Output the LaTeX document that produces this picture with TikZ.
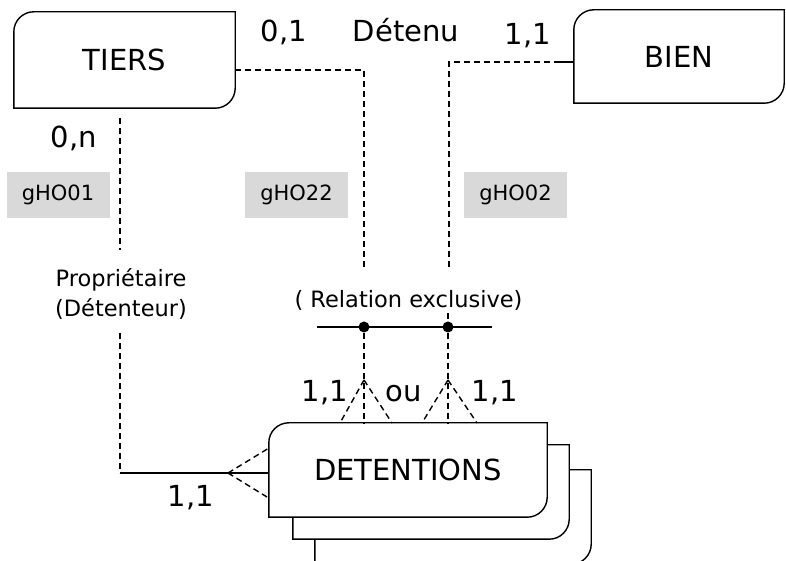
\documentclass[tikz,border=0pt]{standalone}
\usepackage{fontspec}
\setmainfont{DejaVu Sans}
\usetikzlibrary{backgrounds,calc}
\tikzset{
  every picture/.style={x=1pt,y=1pt},
  entity/.style={draw=none,inner sep=0pt,font=\fontsize{29}{33}\selectfont},
  big/.style={inner sep=0pt,anchor=base,font=\fontsize{29}{33}\selectfont},
  mid/.style={inner sep=0pt,anchor=base,font=\fontsize{22.5}{26}\selectfont},
  tag/.style={fill=gray!30,draw=none,minimum width=103pt,minimum height=46pt,inner sep=0pt,font=\fontsize{21}{24}\selectfont},
  boxline/.style={line width=1.4pt,fill=white},
  conn/.style={line width=1.4pt},
  dashconn/.style={line width=1.4pt,dash pattern=on 6pt off 4pt},
  dotmark/.style={circle,fill=black,inner sep=0pt,minimum size=11pt}
}
\newcommand{\leafshape}[1]{%
  \draw[boxline] (#1.north east) -- ([xshift=20pt]#1.north west)
    arc[start angle=90,end angle=180,radius=20pt] -- (#1.south west)
    -- ([xshift=-20pt]#1.south east)
    arc[start angle=-90,end angle=0,radius=20pt] -- cycle;}
\begin{document}
\begin{tikzpicture}
\useasboundingbox (0,0) rectangle (786,561);
\clip (0,0) rectangle (786,561);
% entities
\node[entity,minimum width=221pt,minimum height=96pt] (tiers) at (124.5,501) {TIERS};
\node[entity,minimum width=210pt,minimum height=93pt] (bien) at (679,504.5) {BIEN};
\node[entity,minimum width=276pt,minimum height=94pt] (shadowB) at (453,44) {};
\node[entity,minimum width=276pt,minimum height=94pt] (shadowA) at (431,69) {};
\node[entity,minimum width=278pt,minimum height=94pt] (det) at (408,91) {DETENTIONS};
\begin{pgfonlayer}{background}
  \leafshape{tiers}
  \leafshape{bien}
  \leafshape{shadowB}
  \leafshape{shadowA}
  \leafshape{det}
\end{pgfonlayer}
% tags
\node[tag] (g1) at (58,366) {gHO01};
\node[tag] (g22) at (296.5,366) {gHO22};
\node[tag] (g2) at (515.5,366) {gHO02};
% labels
\node[big] (c01) at (284,519) {0,1};
\node[big] (detenu) at (406,519) {Détenu};
\node[big] (c11a) at (528,516) {1,1};
\node[big] (c0n) at (74,413) {0,n};
\node[mid] (propA) at (121,274) {Propriétaire};
\node[mid] (propB) at (121,244) {(Détenteur)};
\node[mid] (relex) at (408.5,253) {( Relation exclusive)};
\node[big] (c11b) at (325,159) {1,1};
\node[big] (ou) at (404,159) {ou};
\node[big] (c11c) at (495,159) {1,1};
\node[big] (c11d) at (191,54) {1,1};
% coordinates
\coordinate (tEnd) at (364,294);
\coordinate (bEnd) at (449,294);
\coordinate (bStub) at (448,248);
\coordinate (barL) at (317,234);
\coordinate (barR) at (492,234);
\node[dotmark] (dotL) at (364,234) {};
\node[dotmark] (dotR) at (448,234) {};
\coordinate (bSolid) at (560,499);
\coordinate (lTop) at (120,443);
\coordinate (lMidA) at (120,311);
\coordinate (lMidB) at (120,228);
\coordinate (lCorner) at (120,88);
\coordinate (lApex) at (228,88);
\coordinate (aL) at (364,181);
\coordinate (aR) at (448,181);
% TIERS -- Detenu
\draw[dashconn] ([yshift=-10pt]tiers.east) -| (tEnd);
% BIEN -- Detenu
\draw[dashconn] (bSolid) -| (bEnd);
\draw[conn] (bien.west |- bSolid) -- (bSolid);
% exclusive bar
\draw[conn] (barL) -- (barR);
\draw[dashconn] (bStub) -- (dotR);
\draw[dashconn] (dotL) -- (dotL |- det.north);
\draw[dashconn] (dotR) -- (dotR |- det.north);
\draw[dashconn] (aL) -- (340,138) (aL) -- (392,138);
\draw[dashconn] (aR) -- (422,138) (aR) -- (477,138);
% TIERS -- DETENTIONS (proprietaire)
\draw[dashconn] (lTop) -- (lMidA);
\draw[dashconn] (lMidB) -- (lCorner);
\draw[conn] (lCorner) -- (det.west |- lCorner);
\draw[dashconn] (lApex) -- (269,113) (lApex) -- (267,64);
\end{tikzpicture}
\end{document}
